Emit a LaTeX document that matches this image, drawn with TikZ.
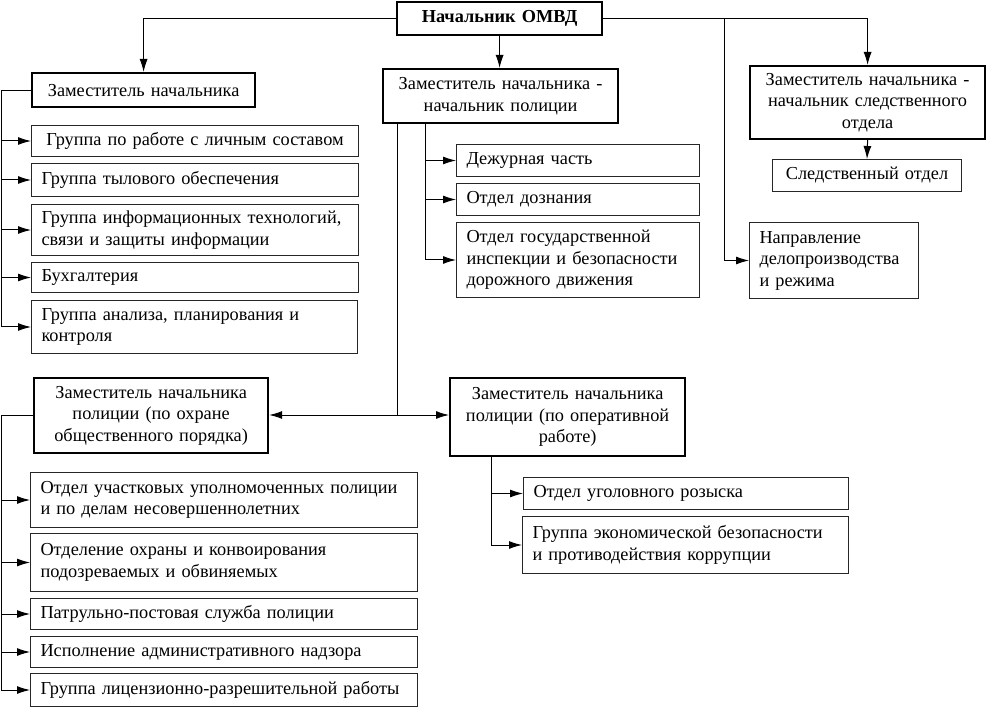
\documentclass[tikz,border=0pt]{standalone}
\usepackage{fontspec}
\setmainfont{Liberation Serif}
\usetikzlibrary{arrows.meta}
\begin{document}
\begin{tikzpicture}[x=1pt,y=-1pt,
  base/.style={draw, anchor=north west, inner xsep=10pt, inner ysep=0pt,
    font=\fontsize{18.3}{21.5}\selectfont, text=black},
  thinbox/.style={base, line width=1pt, draw=black!85},
  thickbox/.style={base, line width=2.2pt},
  conn/.style={line width=1pt},
  arr/.style={conn, -{Latex[length=13pt,width=8pt]}}]
\useasboundingbox (0,0) rectangle (990,708);

% top
\node[thickbox, font=\fontsize{18.3}{21.5}\selectfont\bfseries, text width=185pt, minimum height=33pt, align=center] (A) at (396,1) {Начальник ОМВД};
\node[thickbox, text width=203pt, minimum height=34pt, align=center] (B) at (31,72) {Заместитель начальника};
\node[thickbox, text width=215pt, minimum height=54pt, align=center] (C) at (382,68) {Заместитель начальника -\\начальник полиции};
\node[thickbox, text width=215pt, minimum height=73pt, align=center] (D) at (749,65) {Заместитель начальника -\\начальник следственного\\отдела};
\node[thinbox, text width=169pt, minimum height=32pt, align=center] (E) at (772,159) {Следственный отдел};
\node[thinbox, text width=149pt, minimum height=76pt, align=left] (F) at (749,222) {Направление\\делопроизводства\\и режима};

% left column
\node[thinbox, text width=307pt, minimum height=31pt, align=center] (L1) at (31,125) {Группа по работе с личным составом};
\node[thinbox, text width=307pt, minimum height=33pt, align=left] (L2) at (31,163) {Группа тылового обеспечения};
\node[thinbox, text width=307pt, minimum height=51pt, align=left] (L3) at (31,204) {Группа информационных технологий,\\связи и защиты информации};
\node[thinbox, text width=307pt, minimum height=30pt, align=left] (L4) at (31,262) {Бухгалтерия};
\node[thinbox, text width=306pt, minimum height=53pt, align=left] (L5) at (31,300) {Группа анализа, планирования и\\контроля};

% middle column
\node[thinbox, text width=223pt, minimum height=32pt, align=left] (M1) at (456,144) {Дежурная часть};
\node[thinbox, text width=223pt, minimum height=32pt, align=left] (M2) at (456,183) {Отдел дознания};
\node[thinbox, text width=223pt, minimum height=75pt, align=left] (M3) at (456,222) {Отдел государственной\\инспекции и безопасности\\дорожного движения};

% bottom deputies
\node[thickbox, text width=214pt, minimum height=75pt, align=center] (G) at (33,377) {Заместитель начальника\\полиции (по охране\\общественного порядка)};
\node[thickbox, text width=215pt, minimum height=78pt, align=center] (H) at (449,377) {Заместитель начальника\\полиции (по оперативной\\работе)};

% bottom left column
\node[thinbox, text width=367pt, minimum height=55pt, align=left] (P1) at (30,472) {Отдел участковых уполномоченных полиции\\и по делам несовершеннолетних};
\node[thinbox, text width=367pt, minimum height=58pt, align=left] (P2) at (30,533) {Отделение охраны и конвоирования\\подозреваемых и обвиняемых};
\node[thinbox, text width=367pt, minimum height=31pt, align=left] (P3) at (30,598) {Патрульно-постовая служба полиции};
\node[thinbox, text width=367pt, minimum height=31pt, align=left] (P4) at (30,636) {Исполнение административного надзора};
\node[thinbox, text width=367pt, minimum height=33pt, align=left] (P5) at (30,673) {Группа лицензионно-разрешительной работы};

% bottom right column
\node[thinbox, text width=305pt, minimum height=32pt, align=left] (R1) at (523,477) {Отдел уголовного розыска};
\node[thinbox, text width=306pt, minimum height=57pt, align=left] (R2) at (522,516) {Группа экономической безопасности\\и противодействия коррупции};

% helper coordinates
\coordinate (b1) at (1,0);
\coordinate (j1x) at (724,0);
\coordinate (c1) at (425,0);
\coordinate (c2) at (397,0);
\coordinate (h1) at (491,0);
\coordinate (J) at (397,415);

% top connectors
\draw[arr] (A.west) -| (B.north);
\draw[arr] (A.south) -- (A.south |- C.north);
\draw[arr] (A.east) -| (D.north);
\draw[arr] (A.east -| j1x) |- (F.west);
\draw[arr] (D.south) -- (E.north);

% left bus
\draw[conn] (B.west) -| (b1 |- L5.west);
\foreach \n in {L1,L2,L3,L4,L5} \draw[arr] (b1 |- \n.west) -- (\n.west);

% middle bus
\draw[conn] (C.south -| c1) -- (c1 |- M3.west);
\foreach \n in {M1,M2,M3} \draw[arr] (c1 |- \n.west) -- (\n.west);

% long line to bottom deputies
\draw[conn] (C.south -| c2) -- (J);
\draw[arr] (J) -- (J -| G.east);
\draw[arr] (J) -- (J -| H.west);

% bottom left bus
\draw[conn] (G.west) -| (b1 |- P5.west);
\foreach \n in {P1,P2,P3,P4,P5} \draw[arr] (b1 |- \n.west) -- (\n.west);

% bottom right bus
\draw[conn] (H.south -| h1) -- (h1 |- R2.west);
\foreach \n in {R1,R2} \draw[arr] (h1 |- \n.west) -- (\n.west);
\end{tikzpicture}
\end{document}
